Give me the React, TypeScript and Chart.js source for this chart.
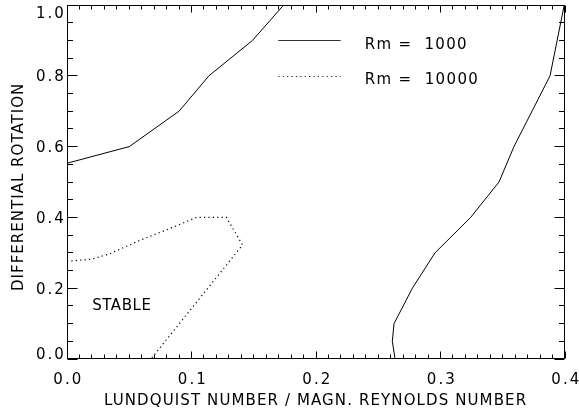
import React, { useEffect, useRef } from "react";
import { Chart, registerables } from "chart.js";

Chart.register(...registerables);

// ---- data ----
const rm1000LeftX = [0, 0.05, 0.09, 0.114, 0.149, 0.174];
const rm1000LeftY = [0.553, 0.6, 0.7, 0.8, 0.9, 1.0];
const rm1000RightX = [0.2635, 0.2613, 0.2627, 0.2774, 0.2956, 0.3242, 0.347, 0.359, 0.388, 0.3994];
const rm1000RightY = [0, 0.05, 0.1, 0.2, 0.3, 0.4, 0.5, 0.6, 0.8, 1.0];
const rm10000X = [0, 0.02, 0.035, 0.059, 0.083, 0.104, 0.128, 0.141, 0.0674];
const rm10000Y = [0.276, 0.282, 0.298, 0.336, 0.369, 0.4, 0.4, 0.322, 0];

// ---- axes ----
const xMajorTicks = [0, 0.1, 0.2, 0.3, 0.4];
const xTickLabels = ["0.0", "0.1", "0.2", "0.3", "0.4"];
const yMajorTicks = [0, 0.2, 0.4, 0.6, 0.8, 1.0];
const yTickLabels = ["0.0", "0.2", "0.4", "0.6", "0.8", "1.0"];
const xMinorStep = 0.01;
const yMinorStep = 0.05;
const xTitle = "LUNDQUIST NUMBER / MAGN. REYNOLDS NUMBER";
const yTitle = "DIFFERENTIAL ROTATION";
const legendLabels = ["Rm =  1000", "Rm =  10000"];
const regionLabel = "STABLE";
const regionLabelPos = { x: 0.0436, y: 0.157 };

const FONT = '15px "DejaVu Sans"';

type Align = "left" | "center" | "right";

function drawText(
  ctx: CanvasRenderingContext2D,
  text: string,
  x: number,
  baseline: number,
  align: Align,
  width?: number,
  spacing = 2
) {
  ctx.save();
  ctx.font = FONT;
  ctx.fillStyle = "#000";
  ctx.textAlign = "left";
  ctx.textBaseline = "alphabetic";
  (ctx as any).letterSpacing = "0px";
  const m = ctx.measureText(text);
  const ink0 = m.actualBoundingBoxLeft + m.actualBoundingBoxRight;
  const n = text.length;
  const ls = width != null && n > 1 ? (width - ink0) / (n - 1) : spacing;
  const ink = ink0 + (n - 1) * ls;
  let left = x;
  if (align === "center") left = x - ink / 2;
  else if (align === "right") left = x - ink;
  (ctx as any).letterSpacing = ls + "px";
  ctx.fillText(text, left + m.actualBoundingBoxLeft, baseline);
  ctx.restore();
}

const framePlugin = {
  id: "idlFrame",
  afterDraw(chart: any) {
    const ctx: CanvasRenderingContext2D = chart.ctx;
    const xs = chart.scales.x;
    const ys = chart.scales.y;
    const L = Math.floor(xs.getPixelForValue(xs.min)) + 0.5;
    const R = Math.floor(xs.getPixelForValue(xs.max)) - 0.5;
    const T = Math.floor(ys.getPixelForValue(ys.max)) + 0.5;
    const B = Math.floor(ys.getPixelForValue(ys.min)) - 0.5;

    ctx.save();
    ctx.strokeStyle = "#000";
    ctx.lineWidth = 1;
    ctx.beginPath();
    ctx.rect(L, T, R - L, B - T);
    ctx.stroke();

    // ticks
    ctx.beginPath();
    const xMajorLen = 7, xMinorLen = 4, yMajorLen = 10, yMinorLen = 5.5;
    const nx = Math.round((xs.max - xs.min) / xMinorStep);
    for (let i = 0; i <= nx; i++) {
      const v = xs.min + i * xMinorStep;
      const major = xMajorTicks.some((t) => Math.abs(t - v) < 1e-9);
      const len = major ? xMajorLen : xMinorLen;
      const px = Math.floor(xs.getPixelForValue(v)) + 0.5;
      ctx.moveTo(px, B);
      ctx.lineTo(px, B - len);
      ctx.moveTo(px, T);
      ctx.lineTo(px, T + len);
    }
    const ny = Math.round((ys.max - ys.min) / yMinorStep);
    for (let i = 0; i <= ny; i++) {
      const v = ys.min + i * yMinorStep;
      const major = yMajorTicks.some((t) => Math.abs(t - v) < 1e-9);
      const len = major ? yMajorLen : yMinorLen;
      const py = Math.floor(ys.getPixelForValue(v)) + 0.5;
      ctx.moveTo(L, py);
      ctx.lineTo(L + len, py);
      ctx.moveTo(R, py);
      ctx.lineTo(R - len, py);
    }
    ctx.stroke();
    ctx.restore();

    // tick labels
    xMajorTicks.forEach((v, i) => {
      drawText(ctx, xTickLabels[i], xs.getPixelForValue(v), 384, "center");
    });
    yMajorTicks.forEach((v, i) => {
      const py = ys.getPixelForValue(v);
      const cy = Math.min(Math.max(py, 12.8), 353.5);
      drawText(ctx, yTickLabels[i], 63.3, cy + 5.5, "right");
    });

    // axis titles
    drawText(ctx, xTitle, 315.3, 404.5, "center", 420.7);
    ctx.save();
    ctx.translate(22.5, 187.5);
    ctx.rotate(-Math.PI / 2);
    drawText(ctx, yTitle, 0, 0, "center", 205);
    ctx.restore();

    // region label
    drawText(
      ctx,
      regionLabel,
      xs.getPixelForValue(regionLabelPos.x),
      ys.getPixelForValue(regionLabelPos.y) + 6.3,
      "center",
      58.3
    );

    // legend
    ctx.save();
    ctx.strokeStyle = "#333";
    ctx.lineWidth = 1;
    ctx.beginPath();
    ctx.moveTo(278.3, 40.5);
    ctx.lineTo(340.7, 40.5);
    ctx.stroke();
    ctx.strokeStyle = "#222";
    ctx.setLineDash([1.2, 3.2]);
    ctx.beginPath();
    ctx.moveTo(278.3, 76.5);
    ctx.lineTo(340.7, 76.5);
    ctx.stroke();
    ctx.restore();
    drawText(ctx, legendLabels[0], 365.7, 48.5, "left", 100.3);
    drawText(ctx, legendLabels[1], 365.7, 83.5, "left", 111.6);
  },
};

function toPoints(xs: number[], ys: number[]) {
  return xs.map((x, i) => ({ x, y: ys[i] }));
}

export default function App() {
  const ref = useRef<HTMLCanvasElement | null>(null);
  useEffect(() => {
    if (!ref.current) return;
    const chart = new Chart(ref.current, {
      type: "scatter",
      data: {
        datasets: [
          {
            label: legendLabels[0],
            data: toPoints(rm1000LeftX, rm1000LeftY),
            showLine: true,
            borderColor: "#000",
            borderWidth: 1,
            pointRadius: 0,
            tension: 0,
          },
          {
            label: legendLabels[0] + " (b)",
            data: toPoints(rm1000RightX, rm1000RightY),
            showLine: true,
            borderColor: "#000",
            borderWidth: 1,
            pointRadius: 0,
            tension: 0,
          },
          {
            label: legendLabels[1],
            data: toPoints(rm10000X, rm10000Y),
            showLine: true,
            borderColor: "#000",
            borderWidth: 1.2,
            borderDash: [1.2, 3.2],
            pointRadius: 0,
            tension: 0,
          },
        ],
      },
      options: {
        responsive: false,
        animation: false,
        devicePixelRatio: 1,
        events: [],
        layout: { padding: { left: 67, right: 14, top: 5, bottom: 53 } },
        plugins: { legend: { display: false }, tooltip: { enabled: false } },
        scales: {
          x: { type: "linear", min: 0, max: 0.4, display: false },
          y: { type: "linear", min: 0, max: 1, display: false },
        },
      },
      plugins: [framePlugin],
    });
    return () => chart.destroy();
  }, []);
  return (
    <div style={{ position: "fixed", left: 0, top: 0, width: 579, height: 412, background: "#fff" }}>
      <canvas ref={ref} width={579} height={412} style={{ display: "block" }} />
    </div>
  );
}
